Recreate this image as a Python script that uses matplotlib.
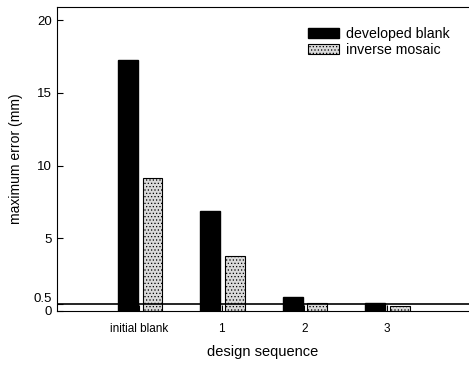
import matplotlib
matplotlib.use("Agg")
import matplotlib.pyplot as plt
import matplotlib.transforms as mtransforms
import numpy as np

plt.rcParams['font.family'] = ['Liberation Sans', 'DejaVu Sans']
plt.rcParams['hatch.linewidth'] = 0.5
plt.rcParams['hatch.color'] = '#666666'

stages = ["initial blank", "1", "2", "3"]
developed = [17.25, 6.87, 0.96, 0.55]
inverse = [9.15, 3.78, 0.55, 0.35]

x = np.arange(1, len(stages) + 1)
w = 0.24

fig = plt.figure(figsize=(4.69, 3.65), dpi=100)
ax = fig.add_axes([0.1215, 0.148, 0.8785, 0.833])

ax.bar(x - 0.14, developed, w, color='black', edgecolor='black', label='developed blank')
ax.bar(x + 0.16, inverse, w, color='#dadada', edgecolor='black', linewidth=0.8,
       hatch='.....', label='inverse mosaic')
ax.axhline(0.5, color='black', lw=1.2)

ax.set_xlim(0, 5)
ax.set_ylim(0, 20.9)
ax.set_xticks(x)
ax.set_xticklabels(stages)
ax.set_yticks([0, 0.5, 5, 10, 15, 20])
ax.set_yticklabels(['0', '0.5', '5', '10', '15', '20'])
ax.tick_params(axis='x', labelsize=8.5, length=4, direction='in', pad=9)
ax.tick_params(axis='y', labelsize=9.5, length=4, direction='in')
ax.spines['right'].set_visible(False)

# the 0 and 0.5 labels sit almost on top of each other, pull them apart a bit
ylabels = ax.get_yticklabels()
ylabels[0].set_transform(ylabels[0].get_transform() +
                         mtransforms.ScaledTranslation(0, 0.5 / 72, fig.dpi_scale_trans))
ylabels[1].set_transform(ylabels[1].get_transform() +
                         mtransforms.ScaledTranslation(0, 4.5 / 72, fig.dpi_scale_trans))

ax.set_xlabel('design sequence', fontsize=10.5, labelpad=7)
ax.set_ylabel('maximum error (mm)', fontsize=10, labelpad=8)

ax.legend(loc='upper right', bbox_to_anchor=(0.985, 0.975), frameon=False, fontsize=10.2,
          handlelength=2.2, handleheight=0.7, handletextpad=0.5, labelspacing=0.1)

fig.savefig('out.png', dpi=100)
